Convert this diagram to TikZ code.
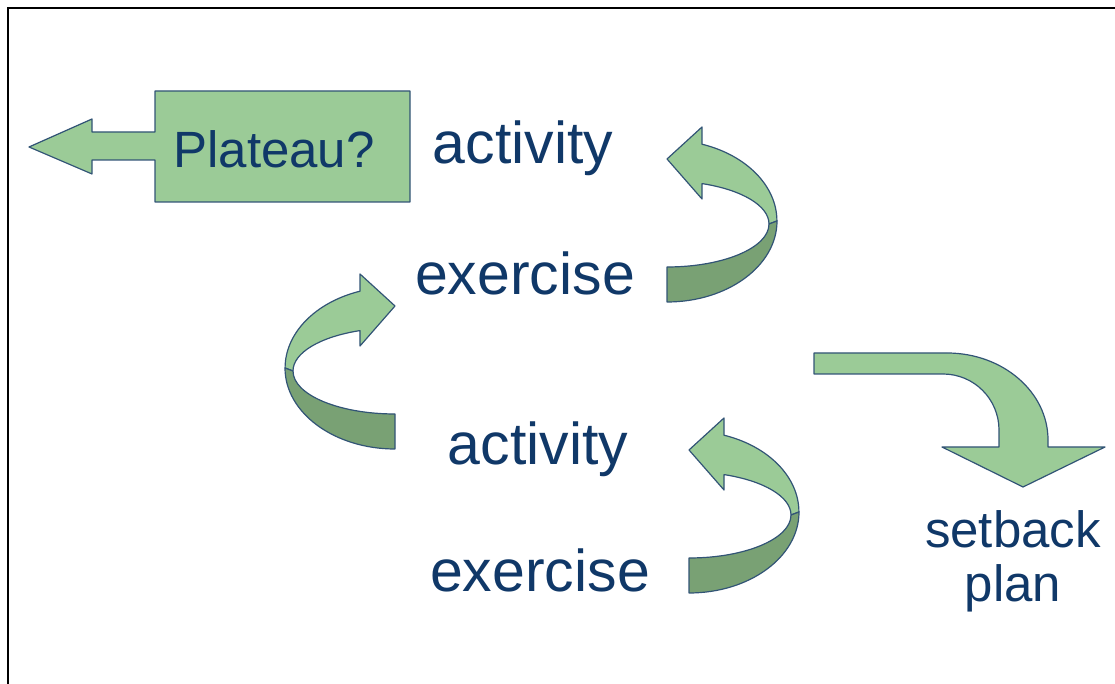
\documentclass[tikz,border=0pt]{standalone}
\usepackage{fontspec}
\setmainfont{Liberation Sans}
\usetikzlibrary{calc}

\definecolor{leafgreen}{RGB}{155,203,151}
\definecolor{mossgreen}{RGB}{121,161,116}
\definecolor{inkblue}{RGB}{16,56,104}
\definecolor{rimblue}{RGB}{50,84,118}

% curved 3d arrow, #1 = centre of the outer ellipse, #2 = xscale (1 or -1)
\newcommand{\turnarrow}[2]{%
 \begin{scope}[shift={#1}, xscale=#2]
  \draw[band, fill=leafgreen] (0,62) -- (35,94) -- (35,76.8)
    arc[start angle=71.4, end angle=0, x radius=110pt, y radius=81pt]
    -- (102,-3)
    arc[start angle=0, end angle=69.9, x radius=102pt, y radius=43pt]
    -- (35,22) -- cycle;
  \draw[band, fill=mossgreen] (0,-46)
    arc[start angle=270, end angle=360, x radius=102pt, y radius=43pt]
    -- (110,0)
    arc[start angle=0, end angle=-90, x radius=110pt, y radius=81pt]
    -- cycle;
 \end{scope}}

\begin{document}
\begin{tikzpicture}[x=1pt, y=1pt,
  band/.style={draw=rimblue, line width=1.2pt, line join=round},
  word/.style={text=inkblue, font=\fontsize{59}{64}\selectfont, anchor=base, inner sep=0pt},
  note/.style={text=inkblue, font=\fontsize{51}{54}\selectfont, anchor=base, inner sep=0pt}]
 \useasboundingbox (0,0) rectangle (1115,684);
 \draw[line width=2pt] (8,0) -- (8,676) -- (1115,676);

 % plateau callout
 \draw[band, fill=leafgreen] (155,593) -- (410,593) -- (410,482) -- (155,482)
   -- (155,524) -- (92,524) -- (92,510) -- (29,537) -- (92,565) -- (92,552)
   -- (155,552) -- cycle;

 % bent arrow down to the setback plan
 \draw[band, fill=leafgreen] (814,331) -- (947,331)
   arc[start angle=90, end angle=0, x radius=101pt, y radius=87pt]
   -- (1048,237) -- (1105,237) -- (1023,197) -- (942,237) -- (999,237) -- (999,254)
   arc[start angle=0, end angle=90, x radius=56pt, y radius=56pt]
   -- (814,310) -- cycle;

 \turnarrow{(667,463)}{1}
 \turnarrow{(395,316)}{-1}
 \turnarrow{(689,172)}{1}

 \node[note, name=plateau] at (274,516) {Plateau?};
 \node[word, name=act1] at (523,520) {activity};
 \node[word, name=ex1] at (525,389) {exercise};
 \node[word, name=act2] at (538,219) {activity};
 \node[word, name=ex2] at (540,92) {exercise};
 \node[note, name=setback, align=center] at (1013,82) {setback\\plan};
\end{tikzpicture}
\end{document}
